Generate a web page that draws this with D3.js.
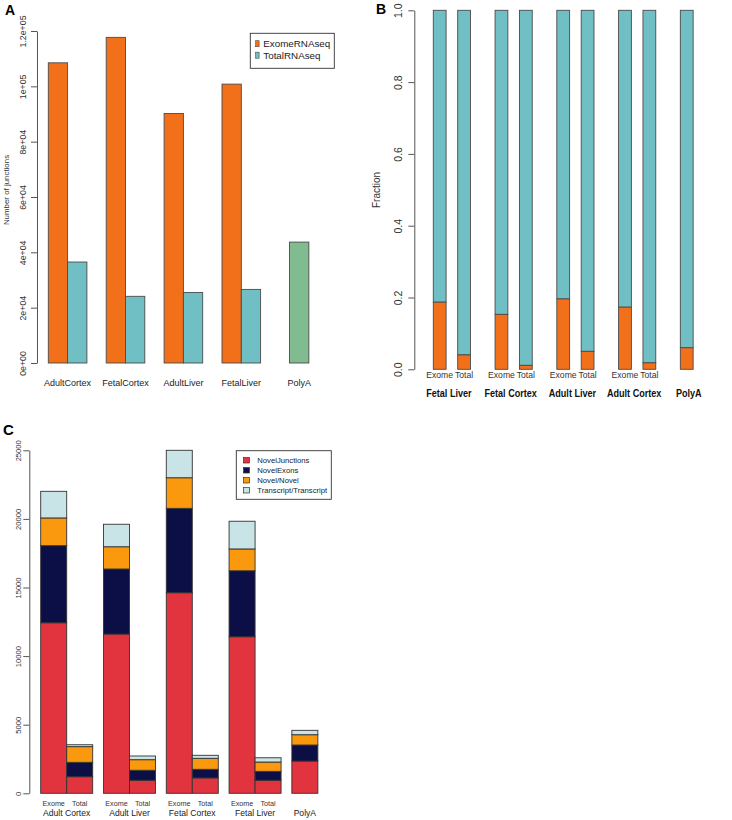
<!DOCTYPE html>
<html><head><meta charset="utf-8">
<script src="https://cdn.jsdelivr.net/npm/d3@7"></script>
<style>
html,body{margin:0;padding:0;background:#fff;}
text{font-family:"Liberation Sans",Arial,sans-serif;}
</style></head>
<body><svg id="chart" width="732" height="820"></svg>
<script>
// ---------- Panel A data ----------
const aCategories = ["AdultCortex","FetalCortex","AdultLiver","FetalLiver","PolyA"];
const aExome = [108500,117700,90200,100800];
const aTotal = [36500,24100,25500,26600];
const aPolyA = [43700];
const aTicks = [0,20000,40000,60000,80000,100000,120000];
const aTickLabels = ["0e+00","2e+04","4e+04","6e+04","8e+04","1e+05","1.2e+05"];
const aLegend = ["ExomeRNAseq","TotalRNAseq"];

// ---------- Panel B data ----------
const bGroups = ["Fetal Liver","Fetal Cortex","Adult Liver","Adult Cortex","PolyA"];
const bSub = ["Exome","Total"];
const bExome = [0.187,0.153,0.196,0.173];
const bTotal = [0.040,0.011,0.050,0.018];
const bPolyA = [0.060];
const bTicks = [0,0.2,0.4,0.6,0.8,1.0];
const bTickLabels = ["0.0","0.2","0.4","0.6","0.8","1.0"];

// ---------- Panel C data ----------
const cGroups = ["Adult Cortex","Adult Liver","Fetal Cortex","Fetal Liver","PolyA"];
const cSub = ["Exome","Total"];
const cSeries = ["NovelJunctions","NovelExons","Novel/Novel","Transcript/Transcript"];
// bar order: AC-Exome, AC-Total, AL-Exome, AL-Total, FC-Exome, FC-Total, FL-Exome, FL-Total, PolyA
const cNovelJunctions = [12430,1210,11610,950,14620,1120,11410,950,2350];
const cNovelExons     = [5620,1050,4740,730,6150,630,4810,650,1170];
const cNovelNovel     = [2020,1140,1620,770,2230,800,1590,680,750];
const cTranscript     = [1940,140,1640,270,2000,220,2020,310,320];
const cTicks = [0,5000,10000,15000,20000,25000];

const orange = "#F2701A", teal = "#70BFC4", green = "#80BC8F";
const cColors = ["#E2343F","#0C0E46","#FA990E","#C8E4E6"];
const barStroke = "#4a4a4a";

const svg = d3.select("#chart");

function rAxis(g, scale, ticks, labels, offset, fs){
  const ax = d3.axisLeft(scale).tickValues(ticks).tickSizeOuter(0).tickSizeInner(6)
    .tickFormat((d,i)=>labels[i]);
  g.call(ax);
  g.select(".domain").attr("stroke","#555");
  g.selectAll(".tick line").attr("stroke","#555");
  g.selectAll(".tick text")
    .attr("x",0).attr("dy",0).attr("y",-offset)
    .attr("transform","rotate(-90)")
    .attr("text-anchor","middle")
    .attr("fill","#333")
    .style("font-family",'"Liberation Sans",Arial,sans-serif')
    .style("font-size",fs+"px");
}

// ================= Panel A =================
{
  const g = svg.append("g");
  const y = d3.scaleLinear().domain([0,120000]).range([363,31]);
  const x = d3.scaleLinear().domain([0,1]).range([48.3,67.6]);
  const bars = [];
  aExome.forEach((v,i)=>{ bars.push({u:3*i, v, c:orange}); bars.push({u:3*i+1, v:aTotal[i], c:teal}); });
  bars.push({u:12.5, v:aPolyA[0], c:green});
  g.selectAll("rect.bar").data(bars).join("rect")
    .attr("x",d=>x(d.u)).attr("width",x(1)-x(0))
    .attr("y",d=>y(d.v)).attr("height",d=>y(0)-y(d.v))
    .attr("fill",d=>d.c).attr("stroke",barStroke).attr("stroke-width",0.9);
  const ax = g.append("g").attr("transform","translate(37,0)");
  rAxis(ax, y, aTicks, aTickLabels, 11.5, 8.8);
  g.selectAll("text.cat").data(aCategories).join("text")
    .attr("x",(d,i)=> i<4 ? x(3*i+1) : x(13))
    .attr("y",386).attr("text-anchor","middle")
    .style("font-size","9px").attr("fill","#222").text(d=>d);
  g.append("text").attr("transform","translate(9,190) rotate(-90)")
    .attr("text-anchor","middle").style("font-size","7.9px").attr("fill","#333")
    .text("Number of junctions");
  g.append("text").attr("x",5).attr("y",15).style("font-size","14px")
    .style("font-weight","bold").text("A");
  // legend
  const lg = g.append("g");
  lg.append("rect").attr("x",250.3).attr("y",33.3).attr("width",84).attr("height",35)
    .attr("fill","none").attr("stroke","#333").attr("stroke-width",0.9);
  [orange,teal].forEach((c,i)=>{
    lg.append("rect").attr("x",255.7).attr("y",40.7+i*11.5).attr("width",3.4).attr("height",6)
      .attr("fill",c).attr("stroke",barStroke).attr("stroke-width",0.6);
    lg.append("text").attr("x",263.3).attr("y",47.3+i*11.5).style("font-size","9.8px")
      .attr("fill","#222").text(aLegend[i]);
  });
}

// ================= Panel B =================
{
  const g = svg.append("g");
  const y = d3.scaleLinear().domain([0,1]).range([369.3,10.3]);
  const x = d3.scaleLinear().domain([0,1]).range([433.3,446.1]);
  const gp = 4.825, sp = 1.905;
  const bars = [];
  bExome.forEach((v,i)=>{ bars.push({u:gp*i, v}); bars.push({u:gp*i+sp, v:bTotal[i]}); });
  bars.push({u:gp*4, v:bPolyA[0]});
  const w = x(1)-x(0);
  g.selectAll("rect.top").data(bars).join("rect")
    .attr("x",d=>x(d.u)).attr("width",w)
    .attr("y",y(1)).attr("height",d=>y(d.v)-y(1))
    .attr("fill",teal).attr("stroke",barStroke).attr("stroke-width",0.9);
  g.selectAll("rect.bot").data(bars).join("rect")
    .attr("x",d=>x(d.u)).attr("width",w)
    .attr("y",d=>y(d.v)).attr("height",d=>y(0)-y(d.v))
    .attr("fill",orange).attr("stroke",barStroke).attr("stroke-width",0.9);
  const ax = g.append("g").attr("transform","translate(414.3,0)");
  rAxis(ax, y, bTicks, bTickLabels, 12.3, 10.5);
  const subs = [];
  bExome.forEach((v,i)=>{ subs.push({u:gp*i, t:bSub[0]}); subs.push({u:gp*i+sp, t:bSub[1]}); });
  g.selectAll("text.sub").data(subs).join("text")
    .attr("x",d=>x(d.u+0.5)).attr("y",378.3).attr("text-anchor","middle")
    .style("font-size","8.6px").attr("fill","#333").text(d=>d.t);
  g.selectAll("text.grp").data(bGroups).join("text")
    .attr("transform",(d,i)=>{
      const cx = i<4 ? x(gp*i + (sp+1)/2) - 3 : x(gp*4+0.5) + 2;
      return `translate(${cx},396.7) scale(0.77,1)`;
    })
    .attr("text-anchor","middle")
    .style("font-size","11.8px").style("font-weight","bold").attr("fill","#111").text(d=>d);
  g.append("text").attr("transform","translate(380,190) rotate(-90)")
    .attr("text-anchor","middle").style("font-size","10px").attr("fill","#333").text("Fraction");
  g.append("text").attr("x",376).attr("y",14).style("font-size","14px")
    .style("font-weight","bold").text("B");
}

// ================= Panel C =================
{
  const g = svg.append("g");
  const y = d3.scaleLinear().domain([0,25000]).range([793.3,450.3]);
  const x = d3.scaleLinear().domain([0,1]).range([40.7,66.7]);
  const gp = 2.415;
  const pos = [];
  for(let i=0;i<4;i++){ pos.push(gp*i); pos.push(gp*i+1); }
  pos.push(gp*4);
  const rows = pos.map((u,i)=>({u, "NovelJunctions":cNovelJunctions[i], "NovelExons":cNovelExons[i],
    "Novel/Novel":cNovelNovel[i], "Transcript/Transcript":cTranscript[i]}));
  const stacked = d3.stack().keys(cSeries)(rows);
  const w = x(1)-x(0);
  stacked.forEach((layer,k)=>{
    g.append("g").selectAll("rect").data(layer).join("rect")
      .attr("x",d=>x(d.data.u)).attr("width",w)
      .attr("y",d=>y(d[1])).attr("height",d=>y(d[0])-y(d[1]))
      .attr("fill",cColors[k]).attr("stroke","#333").attr("stroke-width",0.9);
  });
  const ax = g.append("g").attr("transform","translate(29.3,0)");
  rAxis(ax, y, cTicks, cTicks.map(String), 8.3, 7.6);
  const subs = [];
  for(let i=0;i<4;i++){ subs.push({u:gp*i, t:cSub[0]}); subs.push({u:gp*i+1, t:cSub[1]}); }
  g.selectAll("text.sub").data(subs).join("text")
    .attr("x",d=>x(d.u+0.5)).attr("y",805.7).attr("text-anchor","middle")
    .style("font-size","7.2px").attr("fill","#333").text(d=>d.t);
  g.selectAll("text.grp").data(cGroups).join("text")
    .attr("x",(d,i)=> i<4 ? x(gp*i+1) : x(gp*4+0.5))
    .attr("y",816).attr("text-anchor","middle")
    .style("font-size","8.6px").attr("fill","#222").text(d=>d);
  g.append("text").attr("x",3).attr("y",434.5).style("font-size","15px")
    .style("font-weight","bold").text("C");
  const lg = g.append("g");
  lg.append("rect").attr("x",236.3).attr("y",450.7).attr("width",95).attr("height",48.6)
    .attr("fill","none").attr("stroke","#333").attr("stroke-width",0.9);
  cSeries.forEach((s,i)=>{
    lg.append("rect").attr("x",243.5).attr("y",457.6+i*10).attr("width",6).attr("height",5.4)
      .attr("fill",cColors[i]).attr("stroke","#333").attr("stroke-width",0.7);
    lg.append("text").attr("x",257.3).attr("y",462.9+i*10).style("font-size","7.7px")
      .attr("fill","#222").text(s);
  });
}
</script></body></html>
